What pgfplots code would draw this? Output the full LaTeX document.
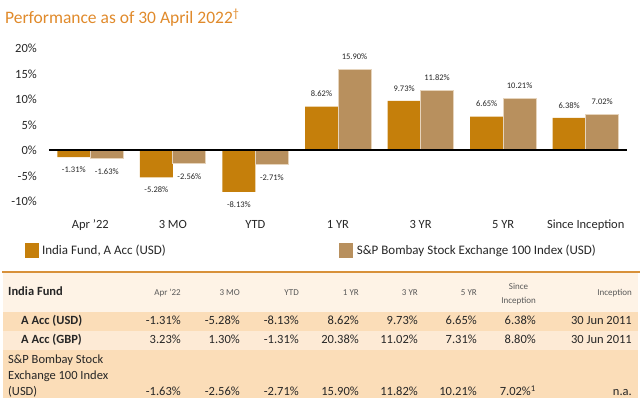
\documentclass[border=0pt]{standalone}
\usepackage{pgfplots}
\pgfplotsset{compat=1.18}
\usepackage{fontspec}
\setmainfont{Carlito}
\definecolor{fund}{HTML}{C57F0B}
\definecolor{index}{HTML}{B8905E}
\definecolor{idxedge}{HTML}{E6D4BC}
\definecolor{titleor}{HTML}{E08A2B}
\definecolor{rule}{HTML}{D8913A}
\definecolor{hdrbg}{HTML}{FEF3E6}
\definecolor{rowa}{HTML}{FBDDB8}
\definecolor{rowb}{HTML}{FDEAD5}
\definecolor{txt}{HTML}{262626}
\definecolor{hdrtxt}{HTML}{595959}
\begin{document}
\begin{tikzpicture}
\path[use as bounding box] (0,0) rectangle (640pt,402pt);
% title
\node[anchor=base west, inner sep=0, text=titleor, font=\fontsize{17.5}{20}\selectfont]
  at (5pt,378pt) {Performance as of 30 April 2022\textsuperscript{\dag}};

\begin{axis}[
  at={(49pt,200.5pt)}, anchor=south west,
  scale only axis, width=578pt, height=153pt,
  xmin=-0.5, xmax=6.5, ymin=-10, ymax=20,
  ybar=0pt, bar width=33pt,
  axis line style={draw=none}, major tick length=0pt,
  xtick={0,...,6},
  xticklabels={Apr '22,3 MO,YTD,1 YR,3 YR,5 YR,Since Inception},
  ytick={-10,-5,...,20},
  yticklabels={-10\%,-5\%,0\%,5\%,10\%,15\%,20\%},
  tick label style={font=\fontsize{12.5}{14}\selectfont, text=txt},
  xticklabel style={anchor=base, yshift=-27pt, inner sep=0pt},
  yticklabel style={anchor=east, xshift=-12pt, inner sep=0pt},
  /pgf/number format/assume math mode=true,
  nodes near coords={\pgfmathprintnumber[fixed,fixed zerofill,precision=2]{\pgfplotspointmeta}\%},
  every node near coord/.append style={font=\fontsize{8.5}{10}\selectfont, text=txt, inner ysep=9.5pt},
  legend style={at={(rel axis cs:-0.0427,-0.317)}, anchor=west, draw=none, fill=none,
    inner sep=0pt, font=\fontsize{13}{15}\selectfont, text=txt,
    nodes={inner sep=3.5pt},
    /tikz/every even column/.append style={column sep=170pt}},
  legend columns=2,
  legend image code/.code={\path[#1,draw=none] (0pt,-7.5pt) rectangle (14pt,7.5pt);},
]
\addplot[fill=fund, draw=none] coordinates {(0,-1.31) (1,-5.28) (2,-8.13) (3,8.62) (4,9.73) (5,6.65) (6,6.38)};
\addlegendentry{India Fund, A Acc (USD)}
\addplot[fill=index, draw=idxedge, line width=0.8pt] coordinates {(0,-1.63) (1,-2.56) (2,-2.71) (3,15.90) (4,11.82) (5,10.21) (6,7.02)};
\addlegendentry{S\&P Bombay Stock Exchange 100 Index (USD)}
\draw[black, line width=2pt] (axis cs:-0.5,0) -- (axis cs:6.5,0);
\end{axis}

% table
\fill[hdrbg] (3pt,128.5pt) rectangle (638pt,90pt);
\fill[rowa] (3pt,90pt) rectangle (638pt,71pt);
\fill[rowb] (3pt,71pt) rectangle (638pt,52pt);
\fill[rowa] (3pt,52pt) rectangle (638pt,4pt);
\draw[rule, line width=2pt] (2pt,129.5pt) -- (640pt,129.5pt);

\node[anchor=mid west, inner sep=0, font=\fontsize{12.5}{14}\selectfont\bfseries, text=txt] at (8pt,109pt) {India Fund};
\foreach \x/\t in {181/Apr '22, 240/3 MO, 299/YTD, 359/1 YR, 418/3 YR, 477/5 YR, 632/Inception}
  \node[anchor=mid east, inner sep=0, font=\fontsize{9}{11}\selectfont, text=hdrtxt] at (\x pt,109pt) {\t};
\node[anchor=east, inner sep=0, align=center, font=\fontsize{9}{14}\selectfont, text=hdrtxt] at (536pt,108pt) {Since\\Inception};

\node[anchor=mid west, inner sep=0, font=\fontsize{12.5}{14}\selectfont\bfseries, text=txt] at (21pt,80pt) {A Acc (USD)};
\node[anchor=mid west, inner sep=0, font=\fontsize{12.5}{14}\selectfont\bfseries, text=txt] at (21pt,61pt) {A Acc (GBP)};
\node[anchor=mid west, inner sep=0, font=\fontsize{12.5}{14}\selectfont, text=txt] at (8pt,41pt) {S\&P Bombay Stock};
\node[anchor=mid west, inner sep=0, font=\fontsize{12.5}{14}\selectfont, text=txt] at (8pt,25pt) {Exchange 100 Index};
\node[anchor=mid west, inner sep=0, font=\fontsize{12.5}{14}\selectfont, text=txt] at (8pt,9pt) {(USD)};

\foreach \x/\t in {181/-1.31\%, 240/-5.28\%, 299/-8.13\%, 359/8.62\%, 418/9.73\%, 477/6.65\%, 536/6.38\%, 632/30 Jun 2011}
  \node[anchor=mid east, inner sep=0, font=\fontsize{12.5}{14}\selectfont, text=txt] at (\x pt,80pt) {\t};
\foreach \x/\t in {181/3.23\%, 240/1.30\%, 299/-1.31\%, 359/20.38\%, 418/11.02\%, 477/7.31\%, 536/8.80\%, 632/30 Jun 2011}
  \node[anchor=mid east, inner sep=0, font=\fontsize{12.5}{14}\selectfont, text=txt] at (\x pt,61pt) {\t};
\foreach \x/\t in {181/-1.63\%, 240/-2.56\%, 299/-2.71\%, 359/15.90\%, 418/11.82\%, 477/10.21\%, 536/7.02\%\textsuperscript{1}, 632/n.a.}
  \node[anchor=mid east, inner sep=0, font=\fontsize{12.5}{14}\selectfont, text=txt] at (\x pt,9pt) {\t};
\end{tikzpicture}
\end{document}
